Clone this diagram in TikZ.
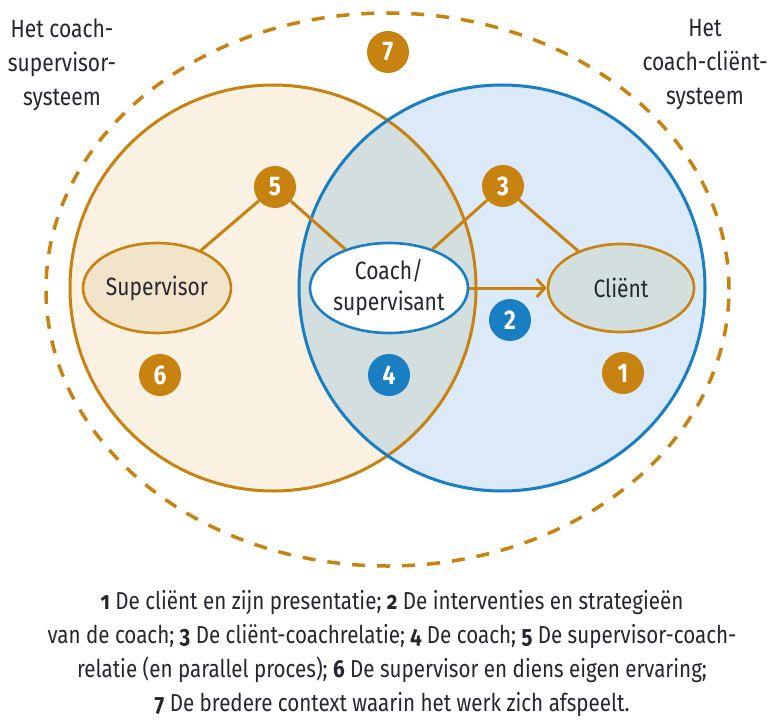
\documentclass[tikz,border=0pt]{standalone}
\usepackage{fontspec}
\setmainfont{Fira Sans}[FakeStretch=0.84]
\newfontfamily\oldnum{Fira Sans}[FakeStretch=0.84,Numbers=OldStyle]
\usetikzlibrary{arrows.meta,shapes.geometric}
\definecolor{orng}{HTML}{C8820F}
\definecolor{blu}{HTML}{1A7EC2}
\definecolor{beige}{HTML}{FBF1E2}
\definecolor{lblue}{HTML}{DCE9F8}
\definecolor{mixc}{HTML}{D3DEDE}
\definecolor{supfill}{HTML}{F2E4CA}
\definecolor{txt}{HTML}{262630}
\tikzset{
  numo/.style={circle,fill=orng,minimum size=42pt,inner sep=0pt,text=white,font=\bfseries\fontsize{27}{27}\selectfont},
  numb/.style={numo,fill=blu},
  ell/.style={ellipse,inner sep=0pt,line width=2.6pt,text=txt,align=center,font=\fontsize{25}{31}\selectfont},
  link/.style={draw=orng,line width=3pt},
  caption/.style={align=center,text=txt,font=\fontsize{25}{34}\selectfont},
  legendtext/.style={align=center,text=txt,font=\fontsize{24.5}{34}\selectfont}
}
\begin{document}
\begin{tikzpicture}[x=1pt,y=-1pt]
\useasboundingbox (0,0) rectangle (770,722);
\fill[white] (0,0) rectangle (770,722);
% big circles fills
\fill[beige] (273,288) circle[radius=203pt];
\fill[lblue] (502,288) circle[radius=203pt];
\begin{scope}
\clip (273,288) circle[radius=203pt];
\fill[mixc] (502,288) circle[radius=203pt];
\end{scope}
\draw[orng,line width=3pt] (273,288) circle[radius=203pt];
\draw[blu,line width=3pt] (502,288) circle[radius=203pt];
% dashed context ellipse
\draw[orng,line width=3.5pt,dash pattern=on 13pt off 12pt] (387.5,289.5) ellipse[x radius=341.5pt, y radius=276.5pt];
% captions
\node[caption] (capl) at (62,65) {Het coach-\\supervisor-\\systeem};
\node[caption] (capr) at (705,65) {Het\\coach-cliënt-\\systeem};
% ellipses
\node[ell,draw=orng,fill=supfill,minimum width=148pt,minimum height=90pt] (sup) at (157,288) {Supervisor};
\node[ell,draw=blu,fill=white,minimum width=158pt,minimum height=90pt] (coach) at (389,288) {Coach/\\supervisant};
\node[ell,draw=orng,fill=mixc,minimum width=146pt,minimum height=88pt] (client) at (621,288) {Cliënt};
% number circles
\node[numo] (n7) at (388,52) {7};
\node[numo] (n5) at (275,187) {5};
\node[numo] (n3) at (503,186) {3};
\node[numo] (n6) at (160,375) {6};
\node[numb] (n4) at (389,375) {4};
\node[numb] (n2) at (510,320) {2};
\node[numo] (n1) at (623,373) {1};
% links
\draw[link] (n5) -- (sup);
\draw[link] (n5) -- (coach);
\draw[link] (n3) -- (coach);
\draw[link] (n3) -- (client);
\draw[link,-{Straight Barb[length=8pt,width=18pt,line width=3pt]}] (coach.east) -- (client.west);
% legend
\node[legendtext] (legend) at (392,654) {{\oldnum\bfseries 1} De cliënt en zijn presentatie; {\oldnum\bfseries 2} De interventies en strategieën\\
van de coach; {\oldnum\bfseries 3} De cliënt-coachrelatie; {\oldnum\bfseries 4} De coach; {\oldnum\bfseries 5} De supervisor-coach-\\
relatie (en parallel proces); {\oldnum\bfseries 6} De supervisor en diens eigen ervaring;\\
{\oldnum\bfseries 7} De bredere context waarin het werk zich afspeelt.};
\end{tikzpicture}
\end{document}
